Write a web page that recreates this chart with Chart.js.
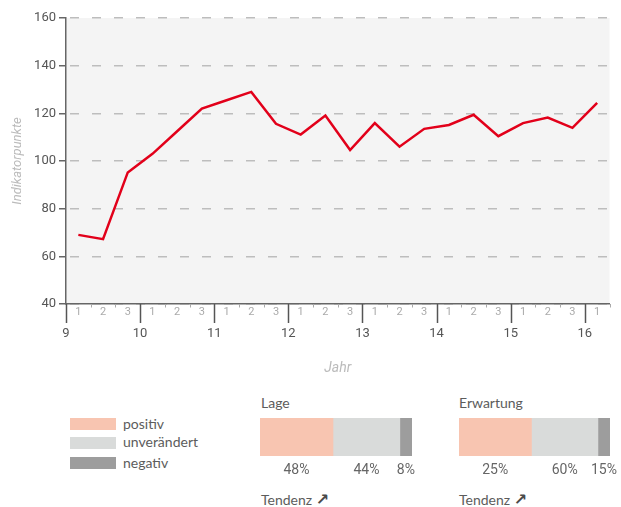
<!DOCTYPE html>
<html>
<head>
<meta charset="utf-8">
<script src="https://cdn.jsdelivr.net/npm/chart.js@4.4.0/dist/chart.umd.min.js"></script>
<style>
  html, body { margin: 0; padding: 0; background: #fff; }
  #wrap { position: relative; width: 621px; height: 507px; overflow: hidden; font-family: Lato, "Noto Sans", sans-serif; color: #5c5c5c; }
  #wrap canvas { position: absolute; }
  .sw { position: absolute; left: 70px; width: 46px; height: 12px; }
  .txt { position: absolute; font-size: 14px; line-height: 14px; white-space: nowrap; }
  .arrow { font-family: "DejaVu Sans", sans-serif; font-weight: bold; font-size: 16px; line-height: 14px; color: #4a4a4a; }
</style>
</head>
<body>
<div id="wrap">
  <canvas id="lineChart" width="621" height="380" style="left:0;top:0"></canvas>

  <div class="sw" id="sw0" style="top:418px"></div>
  <div class="sw" id="sw1" style="top:437px"></div>
  <div class="sw" id="sw2" style="top:457px"></div>
  <div class="txt" id="lg0" style="left:123px;top:417px"></div>
  <div class="txt" id="lg1" style="left:123px;top:435px"></div>
  <div class="txt" id="lg2" style="left:123px;top:456px"></div>

  <div class="txt" style="left:261px;top:396px">Lage</div>
  <canvas id="lageChart" width="170" height="60" style="left:260px;top:418px"></canvas>
  <div class="txt" style="left:261px;top:493px">Tendenz <span class="arrow">&#x2197;</span></div>

  <div class="txt" style="left:459px;top:396px">Erwartung</div>
  <canvas id="erwChart" width="162" height="60" style="left:459px;top:418px"></canvas>
  <div class="txt" style="left:459px;top:493px">Tendenz <span class="arrow">&#x2197;</span></div>
</div>
<script>
// index values, three surveys per year (tertials 1-3), 2009/1 .. 2016/1
const years = [9, 10, 11, 12, 13, 14, 15, 16];
const tertials = ['1', '2', '3'];
const indexValues = [69, 67.2, 95.2, 103, 112.5, 122, 125.5, 129, 115.6, 111.1, 119.1,
  104.6, 115.9, 106, 113.5, 115.1, 119.4, 110.4, 115.9, 118.2, 113.9, 124.4];
const yTicks = [40, 60, 80, 100, 120, 140, 160];

// survey shares
const segmentNames = ['positiv', 'unverändert', 'negativ'];
const lageShares = [48, 44, 8];
const erwartungShares = [25, 60, 15];
// the original draws the Erwartung bar with the same segment lengths as Lage
const erwartungBarLengths = [48, 44, 8];

const segmentColors = ['#f8c5b1', '#d9dbda', '#9d9d9d'];

const xMax = years[years.length - 1] + 1 / 3;

// legend (html)
segmentNames.forEach((n, i) => {
  document.getElementById('sw' + i).style.background = segmentColors[i];
  document.getElementById('lg' + i).textContent = n;
});

const plotBg = {
  id: 'plotBg',
  beforeDraw(chart) {
    const { ctx, chartArea: a } = chart;
    ctx.save();
    ctx.fillStyle = '#f4f4f4';
    ctx.fillRect(a.left, a.top, a.right - a.left, a.bottom - a.top);
    ctx.restore();
  }
};

// year ticks (long) and tertial boundaries (short) under the x axis
const xTickMarks = {
  id: 'xTickMarks',
  afterDraw(chart) {
    const ctx = chart.ctx;
    const sx = chart.scales.x;
    const y0 = chart.chartArea.bottom;
    ctx.save();
    years.forEach(yr => {
      for (let t = 0; t < 3; t++) {
        const v = yr + t / 3;
        if (v > xMax + 1e-6) break;
        const px = Math.round(sx.getPixelForValue(v)) + 0.5;
        ctx.beginPath();
        if (t === 0) {
          ctx.strokeStyle = '#555';
          ctx.lineWidth = 1.5;
          ctx.moveTo(px, y0);
          ctx.lineTo(px, y0 + 19);
        } else {
          ctx.strokeStyle = '#aaa';
          ctx.lineWidth = 1;
          ctx.moveTo(px, y0);
          ctx.lineTo(px, y0 + 3.5);
        }
        ctx.stroke();
      }
    });
    ctx.restore();
  }
};

const points = indexValues.map((v, k) => ({
  x: years[0] + Math.floor(k / 3) + ((k % 3) + 0.5) / 3,
  y: v
}));

new Chart(document.getElementById('lineChart'), {
  type: 'line',
  data: {
    datasets: [{
      data: points,
      borderColor: '#e2001a',
      borderWidth: 2.5,
      pointRadius: 0,
      tension: 0,
      fill: false
    }]
  },
  options: {
    responsive: false,
    animation: false,
    layout: { padding: { left: 0, top: 18, right: 11.5, bottom: 3 } },
    plugins: { legend: { display: false }, tooltip: { enabled: false } },
    scales: {
      x: {
        type: 'linear',
        position: 'bottom',
        weight: 0,
        min: years[0],
        max: xMax,
        afterBuildTicks(axis) {
          const t = [];
          years.forEach(yr => tertials.forEach((n, i) => {
            const v = yr + (i + 0.5) / 3;
            if (v < xMax) t.push({ value: v });
          }));
          axis.ticks = t;
        },
        afterFit(axis) { axis.height = 15; },
        grid: { display: false, drawTicks: false },
        border: { display: true, color: '#666', width: 1.5 },
        ticks: {
          autoSkip: false,
          maxRotation: 0,
          padding: 2,
          color: '#aaa',
          font: { family: 'Roboto', size: 11 },
          callback: (v, i) => tertials[i % 3]
        }
      },
      x2: {
        type: 'linear',
        position: 'bottom',
        weight: 1,
        min: years[0],
        max: xMax,
        afterBuildTicks(axis) { axis.ticks = years.map(v => ({ value: v })); },
        afterFit(axis) { axis.height = 58; },
        grid: { display: false, drawTicks: false },
        border: { display: false },
        ticks: {
          autoSkip: false,
          maxRotation: 0,
          padding: 7,
          color: '#555',
          font: { family: 'Roboto', size: 13 },
          callback: v => String(v)
        },
        title: {
          display: true,
          text: 'Jahr',
          color: '#bbb',
          font: { family: 'Roboto', size: 14, style: 'italic' },
          padding: { top: 0, bottom: 0 }
        }
      },
      y: {
        min: 40,
        max: 160,
        afterBuildTicks(axis) { axis.ticks = yTicks.map(v => ({ value: v })); },
        afterFit(axis) { axis.width = 66; },
        grid: {
          color: '#bdbdbd',
          lineWidth: 1.5,
          tickColor: '#666',
          tickLength: 7,
          tickWidth: 1.5
        },
        border: { color: '#666', width: 1.5, dash: [9, 13], dashOffset: 18.5 },
        ticks: {
          padding: 3,
          color: '#555',
          font: { family: 'Roboto', size: 13 }
        },
        title: {
          display: true,
          text: 'Indikatorpunkte',
          color: '#bbb',
          font: { family: 'Roboto', size: 13, style: 'italic' },
          padding: { top: 10, bottom: 0 }
        }
      }
    }
  },
  plugins: [plotBg, xTickMarks]
});

// percentage labels centred under each segment
const pctLabels = {
  id: 'pctLabels',
  afterDraw(chart, args, opts) {
    const ctx = chart.ctx;
    ctx.save();
    ctx.font = '14px Roboto';
    ctx.fillStyle = '#666';
    ctx.textAlign = 'center';
    ctx.textBaseline = 'middle';
    chart.data.datasets.forEach((ds, i) => {
      const bar = chart.getDatasetMeta(i).data[0];
      const cx = (bar.x + bar.base) / 2;
      ctx.fillText(opts.texts[i] + '%', cx, chart.chartArea.bottom + 14);
    });
    ctx.restore();
  }
};

function shareBar(id, lengths, shares, padRight) {
  return new Chart(document.getElementById(id), {
    type: 'bar',
    data: {
      labels: [''],
      datasets: segmentNames.map((n, i) => ({
        label: n,
        data: [lengths[i]],
        backgroundColor: segmentColors[i],
        borderWidth: 0,
        barPercentage: 1,
        categoryPercentage: 1
      }))
    },
    options: {
      indexAxis: 'y',
      responsive: false,
      animation: false,
      layout: { padding: { left: 0, top: 0, right: padRight, bottom: 22 } },
      scales: {
        x: { stacked: true, min: 0, max: 100, display: false },
        y: { stacked: true, display: false }
      },
      plugins: {
        legend: { display: false },
        tooltip: { enabled: false },
        pctLabels: { texts: shares }
      }
    },
    plugins: [pctLabels]
  });
}

shareBar('lageChart', lageShares, lageShares, 18);
shareBar('erwChart', erwartungBarLengths, erwartungShares, 11);
</script>
</body>
</html>
